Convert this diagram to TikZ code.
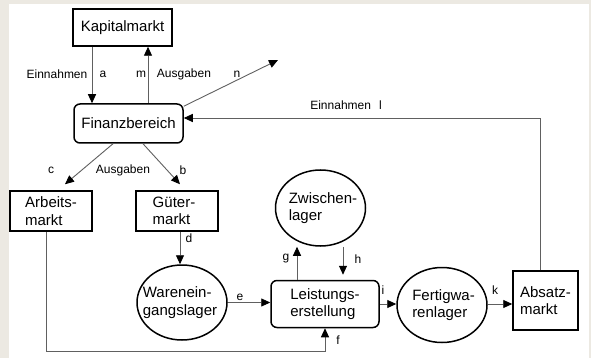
\documentclass[tikz,border=0pt]{standalone}
\usepackage{fontspec}
\setmainfont{Liberation Sans}
\usetikzlibrary{arrows.meta,shapes.geometric}
\definecolor{bgbeige}{HTML}{ECE9E2}
\definecolor{linegray}{HTML}{606060}
\begin{document}
\begin{tikzpicture}[x=1pt,y=-1pt,
  nodefont/.style={font=\fontsize{15}{17.5}\selectfont},
  box/.style={draw, line width=1.5pt, rectangle, nodefont, inner sep=0pt, align=left},
  rbox/.style={box, rounded corners=6pt},
  oval/.style={draw, line width=1.5pt, ellipse, nodefont, inner sep=-14pt, align=left, minimum width=90pt, minimum height=75pt},
  conn/.style={draw=linegray, line width=0.9pt, -{Triangle[length=9pt,width=8pt,color=black]}},
  plain/.style={draw=linegray, line width=0.9pt},
  lab/.style={font=\fontsize{12}{14}\selectfont, inner sep=0pt}
]
\fill[bgbeige] (0,0) rectangle (591,358);
\fill[white] (9,4) rectangle (589,358);
\useasboundingbox (0,0) rectangle (591,358);

\node[box, minimum width=99pt, minimum height=37pt] (kap) at (122.5,27.5) {Kapitalmarkt};
\node[rbox, minimum width=109pt, minimum height=39pt] (fin) at (128.5,123.5) {Finanzbereich};
\node[box, minimum width=82pt, minimum height=40pt] (arb) at (51,211) {Arbeits-\\markt};
\node[box, minimum width=82pt, minimum height=40pt] (gut) at (177,211) {\hspace*{-6pt}Güter-\\\hspace*{-6pt}markt};
\node[oval] (wel) at (182,302.5) {\hspace*{-4pt}Warenein-\\\hspace*{-4pt}gangslager};
\node[rbox, minimum width=108pt, minimum height=47pt] (leist) at (325,304) {Leistungs-\\erstellung};
\node[oval, minimum height=76pt] (zw) at (320.5,208) {\hspace*{5pt}Zwischen-\\\hspace*{5pt}lager};
\node[oval] (fert) at (442,305) {\hspace*{3pt}Fertigwa-\\\hspace*{3pt}renlager};
\node[box, minimum width=65pt, minimum height=59pt] (abs) at (545.5,300.5) {Absatz-\\markt};

% connectors
\draw[conn] ([xshift=-30.5pt]kap.south) -- ([xshift=-30.5pt]kap.south |- fin.north);
\draw[conn] ([xshift=25.5pt]kap.south |- fin.north) -- ([xshift=25.5pt]kap.south);
\coordinate (nend) at (278,60);
\draw[conn] ([yshift=-3pt]fin.north east) -- (nend);
\draw[conn] ([xshift=-5.5pt]abs.north) |- ([yshift=5.5pt]fin.east);
\draw[conn] ([xshift=-15.5pt]fin.south) -- ([xshift=14pt,yshift=6pt]arb.north);
\draw[conn] ([xshift=14.5pt]fin.south) -- ([xshift=3pt,yshift=6pt]gut.north);
\draw[conn] ([xshift=3pt]gut.south) -- ([xshift=3pt]gut.south |- wel.north);
\draw[conn] (wel.east) -- (wel.east -| leist.west);
\draw[conn] ([xshift=-5pt]arb.south) |- ([yshift=-23pt]leist.south) -- (leist.south);
\draw[conn] ([xshift=-28pt]leist.north) -- ([xshift=-28pt]leist.north |- zw.south);
\draw[conn] ([xshift=18pt]leist.north |- zw.south) -- ([xshift=18pt,yshift=5pt]leist.north);
\draw[conn] (leist.east) -- (leist.east -| fert.west);
\draw[conn] (fert.east |- leist.east) -- (abs.west |- leist.east);

% labels
\node[lab] (la1) at (57,74) {Einnahmen};
\node[lab] (la2) at (103,74) {a};
\node[lab] (lm1) at (141,74) {m};
\node[lab] (lm2) at (184,74) {Ausgaben};
\node[lab] (ln) at (237,74) {n};
\node[lab] (ll) at (346,105) {Einnahmen\hspace{8pt}l};
\node[lab] (lc) at (51,170) {c};
\node[lab] (lcb) at (123,170) {Ausgaben};
\node[lab] (lb) at (183,170) {b};
\node[lab] (ld) at (189,238) {d};
\node[lab] (le) at (240,297) {e};
\node[lab] (lg) at (286,259) {g};
\node[lab] (lh) at (358,259) {h};
\node[lab] (li) at (383,290) {i};
\node[lab] (lk) at (495,290) {k};
\node[lab] (lf) at (338,340) {f};
\end{tikzpicture}
\end{document}
